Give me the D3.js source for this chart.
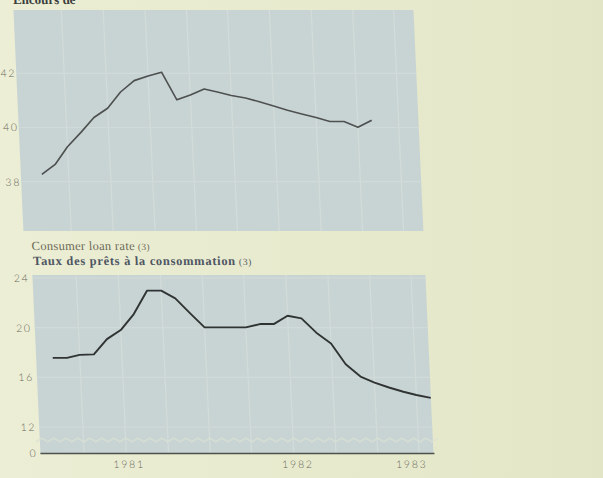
<!DOCTYPE html>
<html>
<head>
<meta charset="utf-8">
<script src="https://cdn.jsdelivr.net/npm/d3@7"></script>
<style>
  body { margin: 0; background: #e7e9cf; }
  svg { display: block; }
</style>
</head>
<body>
<script>
// Months on the time axis, Jan 1981 - Apr 1983
var months = ["1981-01", "1981-02", "1981-03", "1981-04", "1981-05", "1981-06",
              "1981-07", "1981-08", "1981-09", "1981-10", "1981-11", "1981-12",
              "1982-01", "1982-02", "1982-03", "1982-04", "1982-05", "1982-06",
              "1982-07", "1982-08", "1982-09", "1982-10", "1982-11", "1982-12",
              "1983-01", "1983-02", "1983-03", "1983-04"];

// Top panel (title cut off at the top of the page), Jan 1981 - Jan 1983
var outstanding = [38.27, 38.65, 39.29, 39.82, 40.37, 40.71, 41.31, 41.73, 41.90, 42.04,
                   41.02, 41.20, 41.42, 41.30, 41.18, 41.09, 40.95, 40.79, 40.64, 40.50,
                   40.37, 40.22, 40.22, 40.01, 40.27];
var outstandingTicks = [38, 40, 42];

// Bottom panel: consumer loan rate, Jan 1981 - Apr 1983
var loanRate = [17.57, 17.57, 17.81, 17.85, 19.08, 19.81, 21.10, 22.98, 22.98, 22.36,
                21.15, 20.02, 20.02, 20.02, 20.02, 20.29, 20.29, 20.96, 20.75, 19.60,
                18.73, 17.06, 16.06, 15.58, 15.18, 14.84, 14.58, 14.35];
var loanTicks = [0, 12, 16, 20, 24];

var yearLabels = ["1981", "1982", "1983"];
var yearLabelDates = ["1981-06-05", "1982-06-08", "1983-02-11"];

var W = 603, H = 478;
var parseMonth = d3.timeParse("%Y-%m");
var parseDay = d3.timeParse("%Y-%m-%d");

var topData = outstanding.map(function(v, i) { return {date: parseMonth(months[i]), value: v}; });
var loanData = loanRate.map(function(v, i) { return {date: parseMonth(months[i]), value: v}; });

var svg = d3.select("body").append("svg")
  .attr("width", W)
  .attr("height", H);

// page colour, a bit brighter on the left
var grad = svg.append("defs").append("linearGradient")
  .attr("id", "page").attr("x1", 0).attr("x2", 1).attr("y1", 0).attr("y2", 0);
grad.append("stop").attr("offset", "0%").attr("stop-color", "#eceed5");
grad.append("stop").attr("offset", "100%").attr("stop-color", "#e3e6c6");
svg.append("rect").attr("width", W).attr("height", H).attr("fill", "url(#page)");

// photographed page is slightly slanted
var g = svg.append("g").attr("transform", "skewX(2.58)");

var topPanel = {x0: 13, x1: 413, y0: 10, y1: 231};
var botPanel = {x0: 20, x1: 413, y0: 275, y1: 453.5};

// Scales
var xTop = d3.scaleTime().domain([parseMonth("1981-01"), parseMonth("1983-01")]).range([34, 366.3]);
var yTop = d3.scaleLinear().domain([38, 42]).range([181.7, 73.3]);
var xBot = d3.scaleTime().domain([parseMonth("1981-01"), parseMonth("1983-04")]).range([36.6, 412.8]);
var yBot = d3.scaleLinear().domain([0, 12, 24]).range([453.5, 427, 278]);

var gridDates = d3.timeMonth.range(new Date(1981, 2, 1), new Date(1983, 6, 1), 3);

function panel(p, x, y, ticks) {
  g.append("rect")
    .attr("x", p.x0).attr("y", p.y0)
    .attr("width", p.x1 - p.x0).attr("height", p.y1 - p.y0)
    .attr("fill", "#c8d4d4");
  g.selectAll(null)
    .data(gridDates.filter(function(d) { return x(d) < p.x1 - 3; }))
    .enter().append("line")
    .attr("x1", function(d) { return x(d); }).attr("x2", function(d) { return x(d); })
    .attr("y1", p.y0).attr("y2", p.y1)
    .attr("stroke", "#d2dcd9").attr("stroke-width", 1.2);
  g.selectAll(null)
    .data(ticks.filter(function(d) { return y(d) > p.y0 && y(d) < p.y1 - 10; }))
    .enter().append("line")
    .attr("x1", p.x0).attr("x2", p.x1)
    .attr("y1", function(d) { return y(d); }).attr("y2", function(d) { return y(d); })
    .attr("stroke", "#d0dad8").attr("stroke-width", 1.2);
}

panel(topPanel, xTop, yTop, outstandingTicks);
panel(botPanel, xBot, yBot, loanTicks);

// axis break between 12 and 0
var breakY = 440;
var zig = d3.range(botPanel.x0 - 4, botPanel.x1 + 7, 6).map(function(x, i) {
  return [x, breakY + (i % 2 ? -1.8 : 1.8)];
});
g.append("path")
  .attr("d", d3.line()(zig))
  .attr("fill", "none")
  .attr("stroke", "#dbe1d3")
  .attr("stroke-opacity", 0.75)
  .attr("stroke-width", 1.5);

// baseline
g.append("line")
  .attr("x1", botPanel.x0).attr("x2", botPanel.x1 + 1)
  .attr("y1", botPanel.y1).attr("y2", botPanel.y1)
  .attr("stroke", "#4e504a").attr("stroke-width", 1.5);

// Lines
g.append("path")
  .datum(topData)
  .attr("fill", "none")
  .attr("stroke", "#4d504e")
  .attr("stroke-width", 1.6)
  .attr("stroke-linejoin", "round")
  .attr("d", d3.line()
    .x(function(d) { return xTop(d.date); })
    .y(function(d) { return yTop(d.value); }));

g.append("path")
  .datum(loanData)
  .attr("fill", "none")
  .attr("stroke", "#2f3331")
  .attr("stroke-width", 1.9)
  .attr("stroke-linejoin", "round")
  .attr("d", d3.line()
    .x(function(d) { return xBot(d.date); })
    .y(function(d) { return yBot(d.value); }));

// Axes
function styleAxis(sel) {
  sel.select(".domain").remove();
  sel.selectAll("text")
    .style("font-family", "Lato, 'DejaVu Sans', sans-serif")
    .style("font-weight", 300)
    .style("font-size", "10.5px")
    .style("letter-spacing", "1.8px")
    .attr("fill", "#6c6b5f");
}

g.append("g")
  .attr("transform", "translate(13,0)")
  .call(d3.axisLeft(yTop).tickValues(outstandingTicks).tickFormat(d3.format("d")).tickSize(0).tickPadding(0))
  .call(styleAxis);

g.append("g")
  .attr("transform", "translate(17,0)")
  .call(d3.axisLeft(yBot).tickValues(loanTicks).tickFormat(d3.format("d")).tickSize(0).tickPadding(0))
  .call(styleAxis);

g.append("g")
  .attr("transform", "translate(0," + botPanel.y1 + ")")
  .call(d3.axisBottom(xBot)
    .tickValues(yearLabelDates.map(parseDay))
    .tickFormat(function(d, i) { return yearLabels[i]; })
    .tickSize(0).tickPadding(7))
  .call(styleAxis);

// Titles
g.append("text")
  .attr("x", 13).attr("y", 4)
  .style("font-family", "'Liberation Serif', serif")
  .style("font-weight", "bold")
  .style("font-size", "13px")
  .attr("fill", "#3b3e3e")
  .text("Encours de");

var t1 = g.append("text")
  .attr("x", 20.5).attr("y", 250.5)
  .style("font-family", "'Liberation Serif', serif")
  .style("font-size", "12.5px")
  .style("letter-spacing", "0.3px")
  .attr("fill", "#6c6a57");
t1.append("tspan").text("Consumer loan rate");
t1.append("tspan").attr("dx", 3).style("font-size", "9.5px").text("(3)");

var t2 = g.append("text")
  .attr("x", 21.3).attr("y", 265.5)
  .style("font-family", "'Liberation Serif', serif")
  .style("font-weight", "bold")
  .style("font-size", "12.5px")
  .style("letter-spacing", "0.7px")
  .attr("fill", "#4f5663");
t2.append("tspan").text("Taux des prêts à la consommation");
t2.append("tspan").attr("dx", 3).style("font-weight", "normal").style("font-size", "9.5px").text("(3)");
</script>
</body>
</html>
